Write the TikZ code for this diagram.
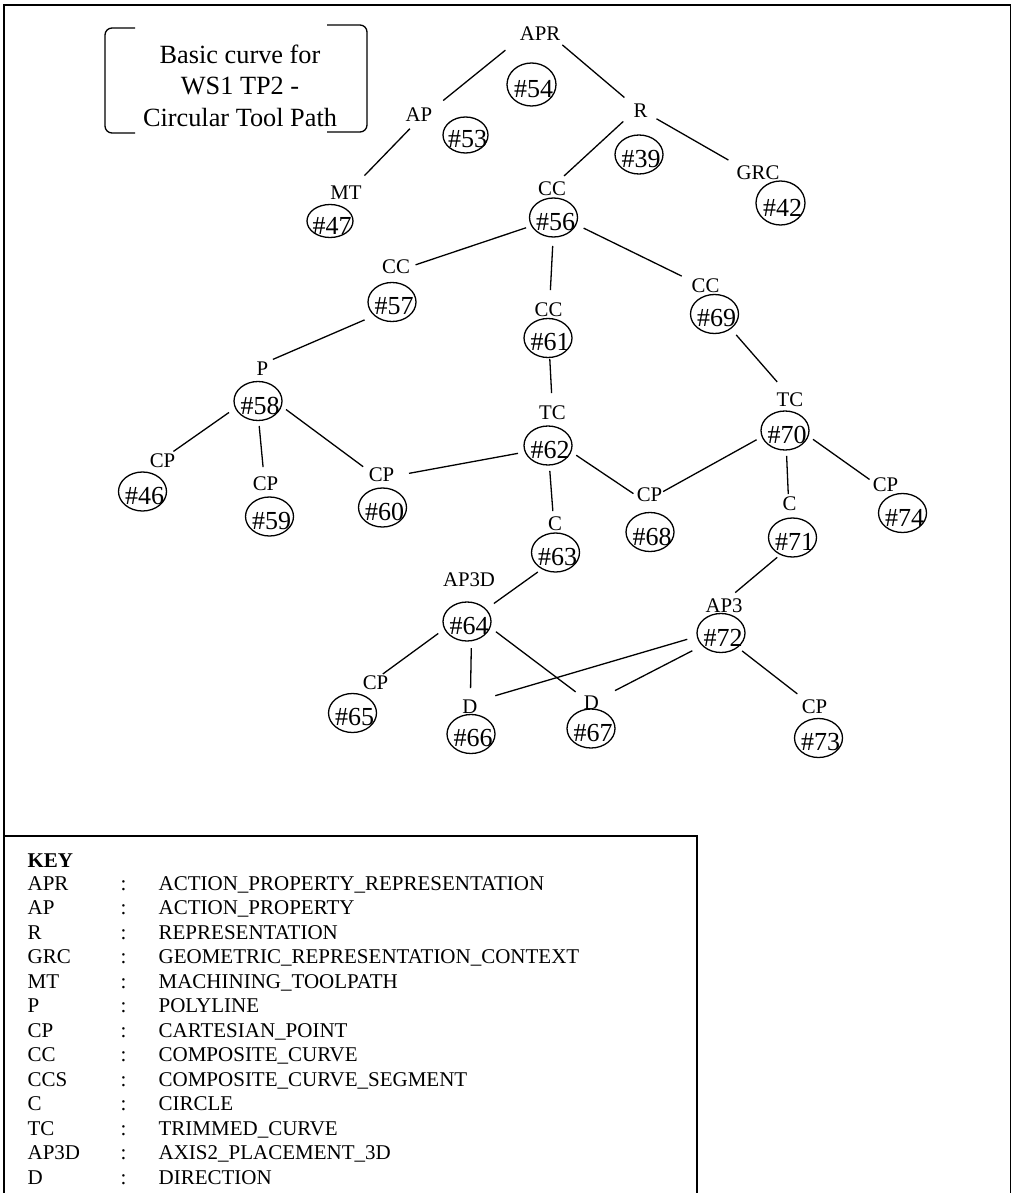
\documentclass[tikz,border=0pt]{standalone}
\usepackage{fontspec}
\setmainfont{Liberation Serif}
\usetikzlibrary{shapes.geometric}

\begin{document}
\begin{tikzpicture}[x=1pt, y=-1pt, line width=1.3pt,
    typ/.style={inner sep=0pt, outer sep=0pt, font=\fontsize{20.8}{25}\selectfont},
    oval/.style={draw, ellipse, minimum width=48pt, minimum height=39pt, inner sep=0pt, outer sep=0pt},
    num/.style={inner sep=0pt, xshift=2pt, yshift=-4.5pt, font=\fontsize{26}{30}\selectfont},
    keytxt/.style={anchor=base west, inner sep=0pt, font=\fontsize{21}{25}\selectfont}]
        \useasboundingbox (0,0) rectangle (1016,1193);

        % frame and key box
        \draw[line width=1.6pt] (4,1200) -- (4,5) -- (1010.5,5) -- (1010.5,1200);
        \draw[line width=1.5pt] (4,1200) -- (4,836) -- (697,836) -- (697,1200);

        % title in brackets
        \node[align=center, inner sep=0pt, font=\fontsize{26.3}{31.5}\selectfont] (title) at (240,85.5) {Basic curve for\\WS1 TP2 -\\Circular Tool Path};
        \draw[rounded corners=7pt] (135,28) -- (105,28) -- (105,133) -- (135,133);
        \draw[rounded corners=7pt] (327,25) -- (367,25) -- (367,132) -- (327,132);

        % entity types and instances
        \node[typ] (t54) at (540,33.5) {APR};
        \node[oval, minimum width=49pt, minimum height=43pt, label={[num]center:\#54}] (n54) at (531.5,84.5) {};
        \node[typ] (t53) at (419,115) {AP};
        \node[oval, minimum width=45pt, minimum height=36pt, label={[num]center:\#53}] (n53) at (465.5,135) {};
        \node[typ] (t39) at (640.5,110.5) {R};
        \node[oval, label={[num]center:\#39}] (n39) at (639,154.5) {};
        \node[typ] (t42) at (758,173) {GRC};
        \node[oval, minimum width=49pt, minimum height=44pt, label={[num]center:\#42}] (n42) at (780.5,203) {};
        \node[typ] (t47) at (346,192.5) {MT};
        \node[oval, minimum width=46pt, minimum height=33pt, label={[num]center:\#47}] (n47) at (330,221) {};
        \node[typ] (t56) at (552,189) {CC};
        \node[oval, label={[num]center:\#56}] (n56) at (553.5,217.5) {};
        \node[typ] (t57) at (396,266.5) {CC};
        \node[oval, label={[num]center:\#57}] (n57) at (392,302) {};
        \node[typ] (t61) at (548.5,309.5) {CC};
        \node[oval, label={[num]center:\#61}] (n61) at (548,338) {};
        \node[typ] (t69) at (705.5,286) {CC};
        \node[oval, label={[num]center:\#69}] (n69) at (714.5,314) {};
        \node[typ] (t58) at (262.5,369) {P};
        \node[oval, label={[num]center:\#58}] (n58) at (258,401) {};
        \node[typ] (t46) at (162.5,461) {CP};
        \node[oval, label={[num]center:\#46}] (n46) at (142.5,491.5) {};
        \node[typ] (t59) at (265.5,484) {CP};
        \node[oval, label={[num]center:\#59}] (n59) at (269.5,516.5) {};
        \node[typ] (t60) at (381.5,474.5) {CP};
        \node[oval, label={[num]center:\#60}] (n60) at (382.5,507.5) {};
        \node[typ] (t62) at (552.5,412.5) {TC};
        \node[oval, label={[num]center:\#62}] (n62) at (548,445.5) {};
        \node[typ] (t70) at (790,399.5) {TC};
        \node[oval, label={[num]center:\#70}] (n70) at (785,430.5) {};
        \node[typ] (t68) at (649.5,495) {CP};
        \node[oval, label={[num]center:\#68}] (n68) at (650,532) {};
        \node[typ] (t71) at (789.5,504) {C};
        \node[oval, label={[num]center:\#71}] (n71) at (792.5,537.5) {};
        \node[typ] (t74) at (885.5,484.5) {CP};
        \node[oval, label={[num]center:\#74}] (n74) at (902.5,513) {};
        \node[typ] (t63) at (555,523.5) {C};
        \node[oval, label={[num]center:\#63}] (n63) at (555.5,552.5) {};
        \node[typ] (t64) at (469,580) {AP3D};
        \node[oval, label={[num]center:\#64}] (n64) at (467,621.5) {};
        \node[typ] (t72) at (724,606) {AP3};
        \node[oval, label={[num]center:\#72}] (n72) at (721,633) {};
        \node[typ] (t65) at (375.5,683) {CP};
        \node[oval, label={[num]center:\#65}] (n65) at (352.5,713) {};
        \node[typ] (t66) at (470,707) {D};
        \node[oval, label={[num]center:\#66}] (n66) at (471,734) {};
        \node[typ] (t67) at (591.5,702.5) {D};
        \node[oval, label={[num]center:\#67}] (n67) at (591,728.5) {};
        \node[typ] (t73) at (814.5,707) {CP};
        \node[oval, label={[num]center:\#73}] (n73) at (818.5,738) {};

        % connectors
        \draw[shorten <=18.5pt, shorten >=14pt] (t54.194) -- (t53.23);
        \draw[shorten <=9.5pt, shorten >=14pt] (t53.250) -- (t47.38);
        \draw[shorten <=7pt, shorten >=12pt] (t54.-22) -- (t39.143);
        \draw[shorten <=14pt, shorten >=9pt] (t39.192) -- (t56.52);
        \draw[shorten <=10.5pt, shorten >=12pt] (t39.-24) -- (t42.160);
        \draw[shorten <=6pt, shorten >=6pt] (n56.201) -- (t57.-1);
        \draw[shorten <=9pt, shorten >=12.5pt] (n56.-91) -- (t61.80);
        \draw[shorten <=8.5pt, shorten >=11pt] (n56.-17) -- (t69.160);
        \draw[shorten <=11pt, shorten >=7pt] (n57.218) -- (t58.60);
        \draw[shorten <=8pt, shorten >=4.5pt] (n58.197) -- (t46.44);
        \draw[shorten <=5.5pt, shorten >=10pt] (n58.-88) -- (t59.102);
        \draw[shorten <=6pt, shorten >=7pt] (n58.-12) -- (t60.164);
        \draw[shorten <=7.5pt, shorten >=15pt] (n62.196) -- (t60.-7);
        \draw[shorten <=1.5pt, shorten >=12.5pt] (n61.-85) -- (t62.92);
        \draw[shorten <=8.5pt, shorten >=14pt] (n69.-42) -- (t70.117);
        \draw[shorten <=6.5pt, shorten >=4pt] (n62.-15) -- (t68.184);
        \draw[shorten <=6.5pt, shorten >=1pt] (n70.195) -- (t68.13);
        \draw[shorten <=6pt, shorten >=3pt] (n70.-86) -- (t71.99);
        \draw[shorten <=6pt, shorten >=4pt] (n70.-13) -- (t74.168);
        \draw[shorten <=6pt, shorten >=5.5pt] (n62.-86) -- (t63.104);
        \draw[shorten <=5.5pt, shorten >=10pt] (n63.231) -- (n64.33);
        \draw[shorten <=4.5pt, shorten >=10pt] (n71.235) -- (t72.63);
        \draw[shorten <=8pt, shorten >=3.5pt] (n64.198) -- (t65.57);
        \draw[shorten <=7.5pt, shorten >=12pt] (n64.-77) -- (t66.87);
        \draw[shorten <=7.5pt, shorten >=10.5pt] (n64.-14) -- (t67.150);
        \draw[shorten <=10.5pt, shorten >=18.5pt] (n72.188) -- (t66.39);
        \draw[shorten <=11.5pt, shorten >=18pt] (n72.214) -- (t67.26);
        \draw[shorten <=6pt, shorten >=10pt] (n72.-41) -- (t73.143);

        % key
        \node[keytxt] (key) at (27,867) {\textbf{KEY}};
        \foreach \ab/\full [count=\i] in {APR/ACTION\_PROPERTY\_REPRESENTATION, AP/ACTION\_PROPERTY,
            R/REPRESENTATION, GRC/GEOMETRIC\_REPRESENTATION\_CONTEXT, MT/MACHINING\_TOOLPATH,
            P/POLYLINE, CP/CARTESIAN\_POINT, CC/COMPOSITE\_CURVE, CCS/COMPOSITE\_CURVE\_SEGMENT,
            C/CIRCLE, TC/TRIMMED\_CURVE, AP3D/AXIS2\_PLACEMENT\_3D, D/DIRECTION} {
          \node[keytxt] (k\i) at (27,{865.5+24.5*\i}) {\ab};
          \node[keytxt] (c\i) at (120,{865.5+24.5*\i}) {:};
          \node[keytxt] (d\i) at (158,{865.5+24.5*\i}) {\full};
        }
      \end{tikzpicture}
\end{document}
